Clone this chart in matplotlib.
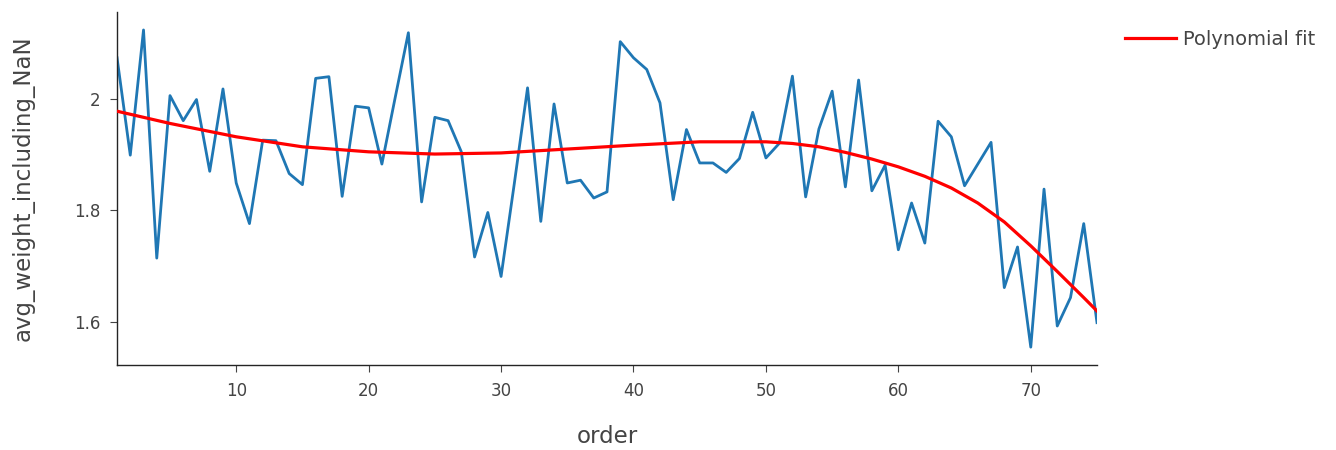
import matplotlib
matplotlib.use('Agg')
import matplotlib.pyplot as plt
from matplotlib.ticker import FuncFormatter

plt.rcParams['font.family'] = ['DejaVu Sans']

# data
order = list(range(1, 76))
avg_weight = [
    2.074, 1.899, 2.124, 1.714, 2.006, 1.961, 1.999, 1.870, 2.018, 1.849,
    1.776, 1.926, 1.925, 1.866, 1.846, 2.037, 2.040, 1.825, 1.987, 1.984,
    1.883, 2.002, 2.119, 1.815, 1.967, 1.961, 1.905, 1.716, 1.796, 1.681,
    1.848, 2.020, 1.780, 1.991, 1.849, 1.854, 1.822, 1.833, 2.103, 2.074,
    2.053, 1.993, 1.819, 1.945, 1.885, 1.885, 1.868, 1.893, 1.976, 1.894,
    1.920, 2.041, 1.824, 1.946, 2.014, 1.842, 2.034, 1.835, 1.881, 1.729,
    1.813, 1.741, 1.960, 1.932, 1.844, 1.883, 1.922, 1.661, 1.734, 1.554,
    1.838, 1.592, 1.643, 1.776, 1.598,
]

fit_x = [1, 5, 10, 15, 20, 25, 30, 35, 40, 45, 50, 52, 54, 56, 58, 60,
         62, 64, 66, 68, 70, 72, 74, 75]
fit_y = [1.978, 1.956, 1.932, 1.914, 1.905, 1.901, 1.903, 1.910, 1.917,
         1.923, 1.923, 1.920, 1.914, 1.904, 1.892, 1.878, 1.861, 1.840,
         1.813, 1.779, 1.736, 1.690, 1.643, 1.619]

fig = plt.figure(figsize=(13.36, 4.5), dpi=100)
ax = fig.add_axes([0.0876, 0.189, 0.7335, 0.784])

ax.plot(order, avg_weight, color='#1f77b4', lw=2.0, zorder=2)
ax.plot(fit_x, fit_y, color='red', lw=2.3, label='Polynomial fit', zorder=3)

ax.set_xlim(1, 75)
ax.set_ylim(1.522, 2.156)
ax.set_xticks([10, 20, 30, 40, 50, 60, 70])
ax.set_yticks([1.6, 1.8, 2.0])
ax.yaxis.set_major_formatter(FuncFormatter(lambda v, p: '%g' % v))

for side in ['top', 'right']:
    ax.spines[side].set_visible(False)
for side in ['left', 'bottom']:
    ax.spines[side].set_color('#242424')
    ax.spines[side].set_linewidth(1.0)
ax.tick_params(direction='out', length=5, width=0.8, color='#444444',
               labelcolor='#444444', labelsize=12, pad=7)

ax.set_xlabel('order', fontsize=16.5, color='#444444', labelpad=18)
ax.set_ylabel('avg_weight_including_NaN', fontsize=16.5, color='#444444',
              labelpad=28)

fig.legend(loc='upper left', bbox_to_anchor=(0.829, 0.972), frameon=False,
           fontsize=14, handlelength=2.6, handletextpad=0.4,
           labelcolor='#444444')

fig.savefig('out.png', dpi=100)
